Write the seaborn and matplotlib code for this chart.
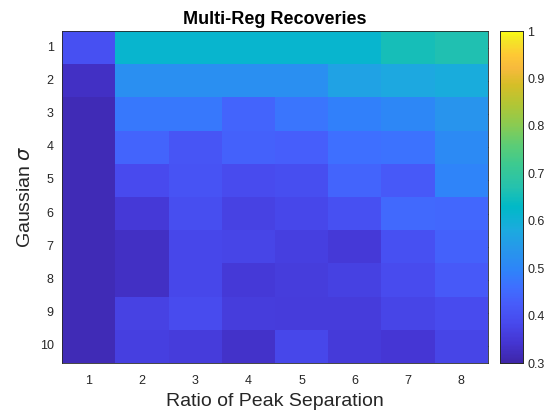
import numpy as np
import pandas as pd
import matplotlib
matplotlib.use("Agg")
import matplotlib.pyplot as plt
import seaborn as sns
from matplotlib.colors import LinearSegmentedColormap

# rows = Gaussian sigma, columns = ratio of peak separation
sigmas = [1, 2, 3, 4, 5, 6, 7, 8, 9, 10]
ratios = [1, 2, 3, 4, 5, 6, 7, 8]

row1 = [0.40, 0.615, 0.615, 0.615, 0.615, 0.615, 0.655, 0.665]
row2 = [0.33, 0.52, 0.52, 0.52, 0.52, 0.565, 0.575, 0.585]
row3 = [0.315, 0.475, 0.475, 0.44, 0.47, 0.49, 0.505, 0.535]
row4 = [0.315, 0.44, 0.41, 0.435, 0.43, 0.46, 0.465, 0.51]
row5 = [0.315, 0.385, 0.405, 0.39, 0.395, 0.44, 0.42, 0.495]
row6 = [0.315, 0.35, 0.395, 0.37, 0.38, 0.40, 0.45, 0.445]
row7 = [0.315, 0.33, 0.38, 0.375, 0.365, 0.35, 0.40, 0.435]
row8 = [0.315, 0.33, 0.38, 0.35, 0.36, 0.367, 0.39, 0.42]
row9 = [0.315, 0.37, 0.39, 0.36, 0.357, 0.355, 0.375, 0.39]
row10 = [0.315, 0.365, 0.357, 0.335, 0.38, 0.352, 0.345, 0.375]

data = pd.DataFrame([row1, row2, row3, row4, row5, row6, row7, row8, row9, row10],
                    index=sigmas, columns=ratios)

# old-style MATLAB parula, a few anchors
parula = LinearSegmentedColormap.from_list("parula", [
    (0.00, (0.2422, 0.1504, 0.6603)),
    (0.06, (0.2691, 0.2094, 0.8249)),
    (0.12, (0.2809, 0.2875, 0.9305)),
    (0.18, (0.2766, 0.3638, 0.9817)),
    (0.23, (0.2424, 0.4378, 0.9991)),
    (0.28, (0.1806, 0.5191, 0.9738)),
    (0.34, (0.1540, 0.5902, 0.9218)),
    (0.40, (0.1085, 0.6669, 0.8734)),
    (0.47, (0.0009, 0.7248, 0.7815)),
    (0.53, (0.1448, 0.7593, 0.6812)),
    (0.60, (0.2401, 0.7905, 0.5636)),
    (0.66, (0.3671, 0.8021, 0.4563)),
    (0.72, (0.5470, 0.7957, 0.3159)),
    (0.78, (0.6963, 0.7750, 0.2075)),
    (0.84, (0.8389, 0.7457, 0.1546)),
    (0.89, (0.9689, 0.7292, 0.2373)),
    (0.93, (0.9957, 0.7856, 0.2053)),
    (0.97, (0.9608, 0.8902, 0.1532)),
    (1.00, (0.9769, 0.9839, 0.0805)),
])

sns.set_style("white")
plt.rcParams['font.family'] = ['Liberation Sans', 'DejaVu Sans']

fig = plt.figure(figsize=(5.5, 4.17), dpi=100)
ax = fig.add_axes([62/550, 1 - 363/417, 426/550, 332/417])
cax = fig.add_axes([500/550, 1 - 363/417, 23/550, 332/417])

sns.heatmap(data, ax=ax, cmap=parula, vmin=0.3, vmax=1.0, cbar_ax=cax,
            cbar_kws={"ticks": [0.3, 0.4, 0.5, 0.6, 0.7, 0.8, 0.9, 1.0]})

for sp in ax.spines.values():
    sp.set_visible(True)
    sp.set_color("#262626")
    sp.set_linewidth(0.6)
ax.tick_params(direction="in", length=3, width=0.6, color="#262626",
               labelsize=9, labelcolor="#262626", top=True, right=True)
ax.tick_params(axis="x", pad=9)
ax.tick_params(axis="y", pad=6)
ax.set_yticklabels(sigmas, rotation=0)
ax.set_xticklabels(ratios, rotation=0)
ax.set_title("Multi-Reg Recoveries", fontsize=13, fontweight="bold", pad=5, color="black")
ax.set_xlabel("Ratio of Peak Separation", fontsize=14, color="#262626", labelpad=4)
ax.set_ylabel("Gaussian $\\sigma$", fontsize=14, color="#262626")

cax.tick_params(direction="in", length=3, width=0.6, labelsize=9,
                labelcolor="#262626", pad=3)
cax.set_yticklabels(["0.3", "0.4", "0.5", "0.6", "0.7", "0.8", "0.9", "1"])
for sp in cax.spines.values():
    sp.set_visible(True)
    sp.set_color("#262626")
    sp.set_linewidth(0.6)

fig.savefig("out.png", dpi=100)
